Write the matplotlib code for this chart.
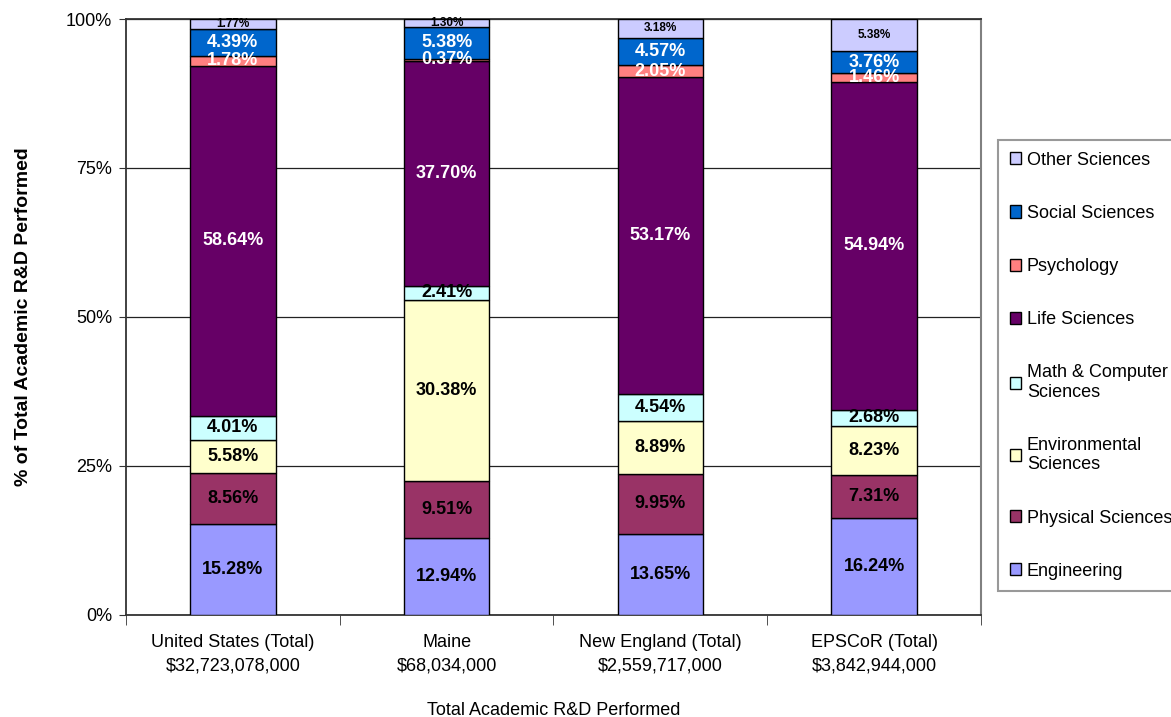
import numpy as np
import matplotlib.pyplot as plt

plt.rcParams['font.family'] = ['Liberation Sans', 'DejaVu Sans']

regions = ['United States (Total)', 'Maine', 'New England (Total)', 'EPSCoR (Total)']
totals = ['$32,723,078,000', '$68,034,000', '$2,559,717,000', '$3,842,944,000']

fields = ['Engineering', 'Physical Sciences', 'Environmental\nSciences',
          'Math & Computer\nSciences', 'Life Sciences', 'Psychology',
          'Social Sciences', 'Other Sciences']

engineering = [15.28, 12.94, 13.65, 16.24]
physical = [8.56, 9.51, 9.95, 7.31]
environmental = [5.58, 30.38, 8.89, 8.23]
math_cs = [4.01, 2.41, 4.54, 2.68]
life = [58.64, 37.70, 53.17, 54.94]
psychology = [1.78, 0.37, 2.05, 1.46]
social = [4.39, 5.38, 4.57, 3.76]
other = [1.77, 1.30, 3.18, 5.38]

series = [engineering, physical, environmental, math_cs, life, psychology, social, other]
colors = ['#9999FF', '#993366', '#FFFFCC', '#CCFFFF', '#660066', '#FF8080', '#0066CC', '#CCCCFF']
txt_colors = ['k', 'k', 'k', 'k', 'w', 'w', 'w', 'k']
txt_sizes = [13, 13, 13, 13, 13, 13, 13, 8.5]

fig = plt.figure(figsize=(11.71, 7.17), dpi=100)
ax = fig.add_axes([0.1076, 0.1423, 0.7301, 0.8312])

x = np.arange(len(regions))
bottom = np.zeros(len(regions))
handles = []
for vals, c, tc, ts, name in zip(series, colors, txt_colors, txt_sizes, fields):
    vals = np.array(vals)
    b = ax.bar(x, vals, width=0.4, bottom=bottom, color=c, edgecolor='black',
               linewidth=1, label=name, zorder=3)
    handles.append(b)
    for xi, v, b0 in zip(x, vals, bottom):
        ax.text(xi, b0 + v / 2, f'{v:.2f}%', ha='center', va='center',
                color=tc, fontsize=ts, fontweight='bold', zorder=4)
    bottom += vals

ax.set_xlim(-0.5, 3.5)
ax.set_ylim(0, 100)
ax.set_yticks([0, 25, 50, 75, 100])
ax.set_yticklabels(['0%', '25%', '50%', '75%', '100%'], fontsize=13)
ax.yaxis.grid(True, color='#222222', linewidth=0.9, zorder=0)
ax.set_axisbelow(True)

ax.set_xticks(x)
ax.set_xticklabels([f'{r}\n{t}' for r, t in zip(regions, totals)], fontsize=13,
                   linespacing=1.45)
ax.set_xticks(np.arange(-0.5, 4.0, 1.0), minor=True)
ax.tick_params(axis='x', which='major', length=0, pad=14)
ax.tick_params(axis='x', which='minor', length=7, color='#333333')
ax.tick_params(axis='y', length=5, color='#333333', pad=5)

for s in ['left', 'bottom', 'top']:
    ax.spines[s].set_color('#333333')
    ax.spines[s].set_linewidth(1.3)
ax.spines['right'].set_color('#808080')
ax.spines['right'].set_linewidth(1.5)

ax.set_xlabel('Total Academic R&D Performed', fontsize=13, labelpad=20)
ax.set_ylabel('% of Total Academic R&D Performed', fontsize=14, fontweight='bold')
ax.yaxis.set_label_coords(-0.11, 0.5)

leg = fig.legend(handles[::-1], fields[::-1], loc='upper left',
                 bbox_to_anchor=(998 / 1171, 1 - 140 / 717), fontsize=13,
                 frameon=True, fancybox=False, edgecolor='#808080',
                 labelspacing=2.0, handlelength=0.65, handleheight=0.65,
                 handletextpad=0.3, borderpad=0.65, borderaxespad=0)
leg.get_frame().set_linewidth(1.5)

plt.savefig('out.png', dpi=100)
